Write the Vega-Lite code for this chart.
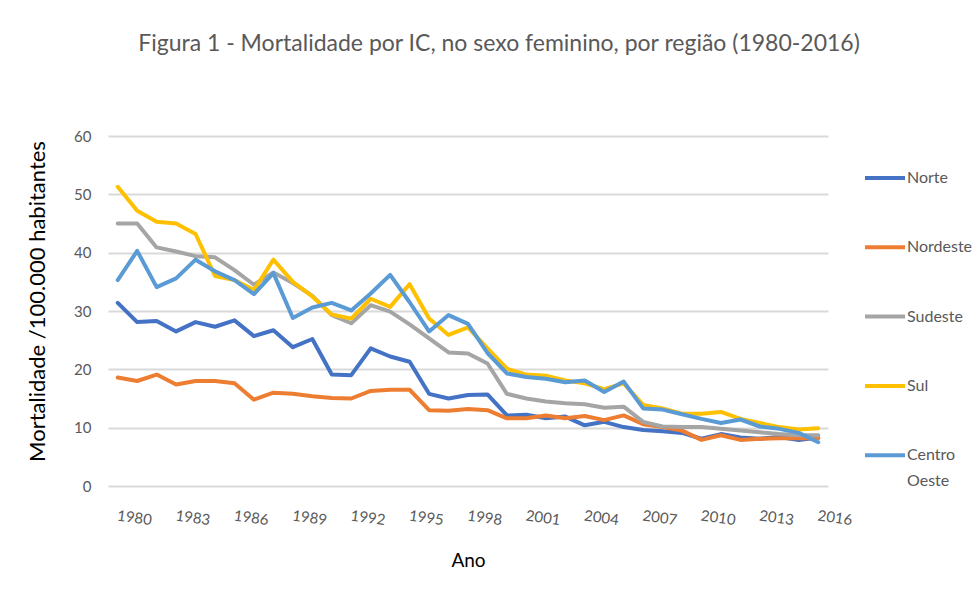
{
  "$schema": "https://vega.github.io/schema/vega-lite/v6.json",
  "autosize": {"type": "none"},
  "padding": {"left": 108, "top": 136, "right": 152, "bottom": 103},
  "width": 720,
  "height": 350,
  "background": "white",
  "title": {
    "text": "Figura 1 - Mortalidade por IC, no sexo feminino, por região (1980-2016)",
    "font": "Lato",
    "fontSize": 23,
    "fontWeight": "normal",
    "color": "#595959",
    "anchor": "middle",
    "frame": "group",
    "dx": 31,
    "offset": 55,
    "baseline": "alphabetic"
  },
  "data": {
    "values": [
      {"ano": 1980, "Norte": 31.4, "Nordeste": 18.6, "Sudeste": 45.0, "Sul": 51.3, "Centro Oeste": 35.3},
      {"ano": 1981, "Norte": 28.1, "Nordeste": 18.0, "Sudeste": 45.0, "Sul": 47.2, "Centro Oeste": 40.3},
      {"ano": 1982, "Norte": 28.3, "Nordeste": 19.1, "Sudeste": 40.9, "Sul": 45.3, "Centro Oeste": 34.1},
      {"ano": 1983, "Norte": 26.5, "Nordeste": 17.4, "Sudeste": 40.2, "Sul": 45.0, "Centro Oeste": 35.6},
      {"ano": 1984, "Norte": 28.1, "Nordeste": 18.0, "Sudeste": 39.4, "Sul": 43.2, "Centro Oeste": 38.8},
      {"ano": 1985, "Norte": 27.3, "Nordeste": 18.0, "Sudeste": 39.2, "Sul": 36.0, "Centro Oeste": 36.8},
      {"ano": 1986, "Norte": 28.4, "Nordeste": 17.6, "Sudeste": 37.0, "Sul": 35.3, "Centro Oeste": 35.3},
      {"ano": 1987, "Norte": 25.7, "Nordeste": 14.8, "Sudeste": 34.5, "Sul": 33.6, "Centro Oeste": 32.9},
      {"ano": 1988, "Norte": 26.7, "Nordeste": 16.0, "Sudeste": 36.6, "Sul": 38.8, "Centro Oeste": 36.5},
      {"ano": 1989, "Norte": 23.8, "Nordeste": 15.8, "Sudeste": 34.8, "Sul": 35.0, "Centro Oeste": 28.8},
      {"ano": 1990, "Norte": 25.2, "Nordeste": 15.4, "Sudeste": 32.6, "Sul": 32.5, "Centro Oeste": 30.6},
      {"ano": 1991, "Norte": 19.1, "Nordeste": 15.1, "Sudeste": 29.3, "Sul": 29.4, "Centro Oeste": 31.4},
      {"ano": 1992, "Norte": 19.0, "Nordeste": 15.0, "Sudeste": 27.9, "Sul": 28.7, "Centro Oeste": 30.1},
      {"ano": 1993, "Norte": 23.6, "Nordeste": 16.3, "Sudeste": 31.0, "Sul": 32.1, "Centro Oeste": 33.0},
      {"ano": 1994, "Norte": 22.2, "Nordeste": 16.5, "Sudeste": 29.9, "Sul": 30.7, "Centro Oeste": 36.2},
      {"ano": 1995, "Norte": 21.3, "Nordeste": 16.5, "Sudeste": 27.7, "Sul": 34.6, "Centro Oeste": 31.5},
      {"ano": 1996, "Norte": 15.8, "Nordeste": 13.0, "Sudeste": 25.3, "Sul": 28.7, "Centro Oeste": 26.5},
      {"ano": 1997, "Norte": 15.0, "Nordeste": 12.9, "Sudeste": 22.9, "Sul": 25.9, "Centro Oeste": 29.3},
      {"ano": 1998, "Norte": 15.6, "Nordeste": 13.2, "Sudeste": 22.7, "Sul": 27.2, "Centro Oeste": 27.8},
      {"ano": 1999, "Norte": 15.7, "Nordeste": 13.0, "Sudeste": 21.0, "Sul": 23.6, "Centro Oeste": 22.8},
      {"ano": 2000, "Norte": 12.1, "Nordeste": 11.6, "Sudeste": 15.8, "Sul": 20.1, "Centro Oeste": 19.3},
      {"ano": 2001, "Norte": 12.2, "Nordeste": 11.6, "Sudeste": 15.0, "Sul": 19.1, "Centro Oeste": 18.7},
      {"ano": 2002, "Norte": 11.6, "Nordeste": 12.1, "Sudeste": 14.5, "Sul": 18.9, "Centro Oeste": 18.4},
      {"ano": 2003, "Norte": 11.9, "Nordeste": 11.6, "Sudeste": 14.2, "Sul": 18.1, "Centro Oeste": 17.8},
      {"ano": 2004, "Norte": 10.4, "Nordeste": 12.0, "Sudeste": 14.0, "Sul": 17.6, "Centro Oeste": 18.1},
      {"ano": 2005, "Norte": 11.0, "Nordeste": 11.3, "Sudeste": 13.4, "Sul": 16.6, "Centro Oeste": 16.1},
      {"ano": 2006, "Norte": 10.1, "Nordeste": 12.1, "Sudeste": 13.6, "Sul": 17.6, "Centro Oeste": 17.9},
      {"ano": 2007, "Norte": 9.6, "Nordeste": 10.6, "Sudeste": 11.0, "Sul": 13.9, "Centro Oeste": 13.3},
      {"ano": 2008, "Norte": 9.4, "Nordeste": 10.1, "Sudeste": 10.2, "Sul": 13.3, "Centro Oeste": 13.1},
      {"ano": 2009, "Norte": 9.1, "Nordeste": 9.5, "Sudeste": 10.1, "Sul": 12.4, "Centro Oeste": 12.3},
      {"ano": 2010, "Norte": 8.1, "Nordeste": 7.9, "Sudeste": 10.1, "Sul": 12.4, "Centro Oeste": 11.5},
      {"ano": 2011, "Norte": 8.9, "Nordeste": 8.7, "Sudeste": 9.8, "Sul": 12.7, "Centro Oeste": 10.8},
      {"ano": 2012, "Norte": 8.3, "Nordeste": 7.9, "Sudeste": 9.5, "Sul": 11.5, "Centro Oeste": 11.4},
      {"ano": 2013, "Norte": 8.1, "Nordeste": 8.1, "Sudeste": 9.2, "Sul": 10.8, "Centro Oeste": 10.2},
      {"ano": 2014, "Norte": 8.4, "Nordeste": 8.2, "Sudeste": 8.9, "Sul": 10.1, "Centro Oeste": 9.8},
      {"ano": 2015, "Norte": 7.9, "Nordeste": 8.2, "Sudeste": 8.7, "Sul": 9.7, "Centro Oeste": 9.1},
      {"ano": 2016, "Norte": 8.3, "Nordeste": 8.2, "Sudeste": 8.7, "Sul": 9.9, "Centro Oeste": 7.5}
    ]
  },
  "transform": [
    {"fold": ["Norte", "Nordeste", "Sudeste", "Sul", "Centro Oeste"], "as": ["regiao", "valor"]}
  ],
  "mark": {"type": "line", "strokeWidth": 4, "strokeCap": "round", "strokeJoin": "round"},
  "encoding": {
    "x": {
      "field": "ano",
      "type": "ordinal",
      "scale": {"type": "point", "padding": 0.5},
      "axis": {
        "values": [1980, 1983, 1986, 1989, 1992, 1995, 1998, 2001, 2004, 2007, 2010, 2013, 2016],
        "labelAngle": 8,
        "labelAlign": "left",
        "labelBaseline": "top",
        "labelPadding": 22,
        "labelFontSize": 15,
        "labelOverlap": false,
        "labelBound": false,
        "grid": false,
        "title": "Ano",
        "titleFontSize": 19,
        "titleY": 65,
        "titleBaseline": "top"
      }
    },
    "y": {
      "field": "valor",
      "type": "quantitative",
      "scale": {"domain": [0, 60], "nice": false},
      "axis": {
        "values": [0, 10, 20, 30, 40, 50, 60],
        "labelPadding": 17,
        "labelFontSize": 15,
        "grid": true,
        "title": "Mortalidade /100.000 habitantes",
        "titleFontSize": 22,
        "titleX": -59,
        "titleY": 165,
        "titleBaseline": "bottom",
        "titleAlign": "center"
      }
    },
    "color": {
      "field": "regiao",
      "type": "nominal",
      "sort": ["Norte", "Nordeste", "Sudeste", "Sul", "Centro Oeste"],
      "scale": {
        "domain": ["Norte", "Nordeste", "Sudeste", "Sul", "Centro Oeste"],
        "range": ["#4472C4", "#ED7D31", "#A5A5A5", "#FFC000", "#5B9BD5"]
      },
      "legend": {
        "orient": "none",
        "legendX": 755,
        "legendY": 20,
        "direction": "vertical",
        "title": null,
        "symbolType": "stroke",
        "symbolSize": 1600,
        "symbolStrokeWidth": 4,
        "labelFont": "Lato",
        "labelFontSize": 16,
        "labelColor": "#595959",
        "labelOffset": 0,
        "labelLimit": 200,
        "rowPadding": 39.3,
        "padding": 0,
        "labelExpr": "datum.label == 'Centro Oeste' ? ['Centro', 'Oeste'] : datum.label",
        "encoding": {"labels": {"lineHeight": {"value": 26}}}
      }
    }
  },
  "config": {
    "font": "Lato",
    "view": {"stroke": null},
    "axis": {
      "labelFont": "Lato",
      "labelFontSize": 14,
      "labelColor": "#595959",
      "titleFont": "Lato",
      "titleColor": "#000000",
      "titleFontWeight": "normal",
      "domain": false,
      "ticks": false,
      "gridColor": "#d9d9d9",
      "gridWidth": 2
    }
  }
}
